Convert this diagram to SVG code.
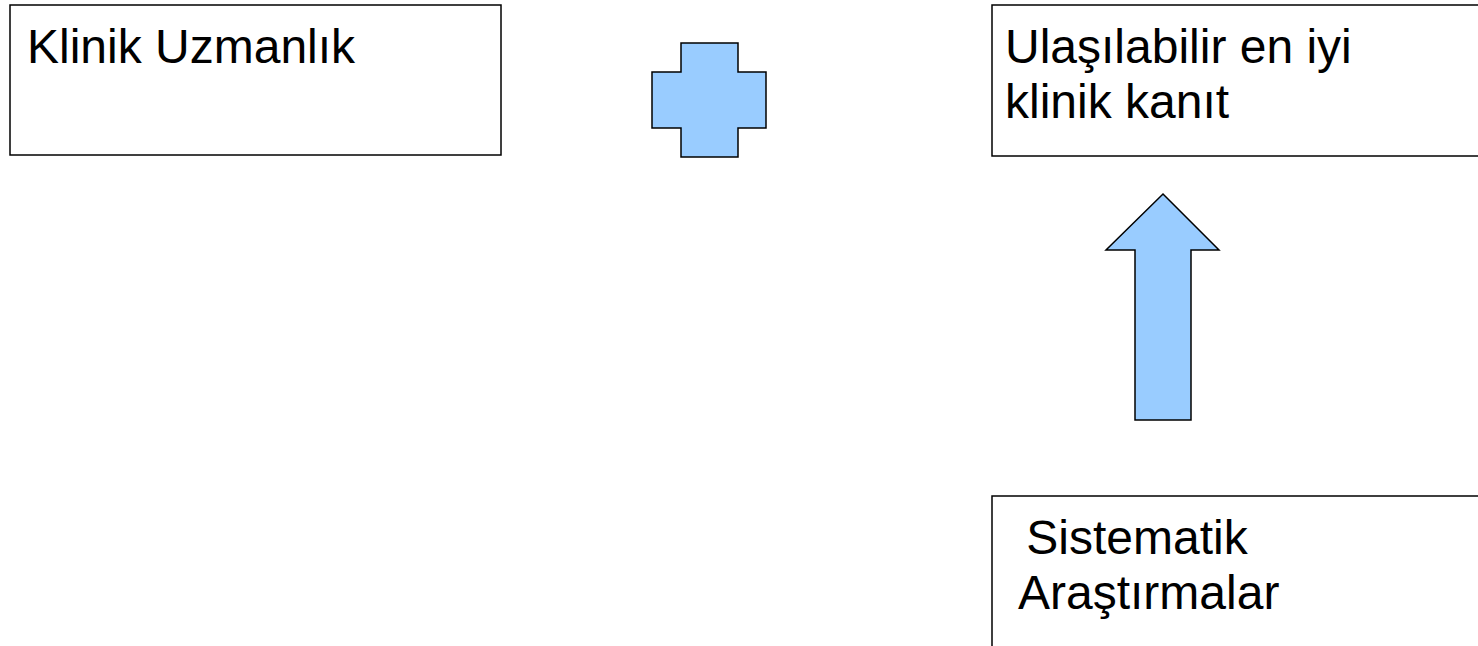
<svg xmlns="http://www.w3.org/2000/svg" width="1478" height="646" viewBox="0 0 1478 646">
<style>
.box{fill:#fff;stroke:#000;stroke-width:1.5}
.shape{fill:#99ccff;stroke:#000;stroke-width:1.5;stroke-linejoin:miter}
.t{font-family:"Liberation Sans",Arial,sans-serif;font-size:48px;fill:#000}
</style>
<rect width="1478" height="646" fill="#fff"/>
<g id="klinik-uzmanlik">
<rect class="box" x="10" y="5" width="491" height="150"/>
<text class="t" x="27" y="63">Klinik Uzmanlık</text>
</g>
<g id="plus">
<polygon class="shape" points="681,43 738,43 738,72 766,72 766,128 738,128 738,157 681,157 681,128 652,128 652,72 681,72"/>
</g>
<g id="kanit">
<rect class="box" x="992" y="5" width="500" height="151"/>
<text class="t" x="1005" y="63">Ulaşılabilir en iyi</text>
<text class="t" x="1005" y="118">klinik kanıt</text>
</g>
<g id="sistematik">
<rect class="box" x="992" y="496" width="500" height="200"/>
<text class="t" x="1013" y="554" xml:space="preserve"> Sistematik</text>
<text class="t" x="1018" y="609">Araştırmalar</text>
</g>
<g id="connectors">
<polygon class="shape" points="1163,194 1219,250 1191,250 1191,420 1135,420 1135,250 1106,250"/>
</g>
</svg>
